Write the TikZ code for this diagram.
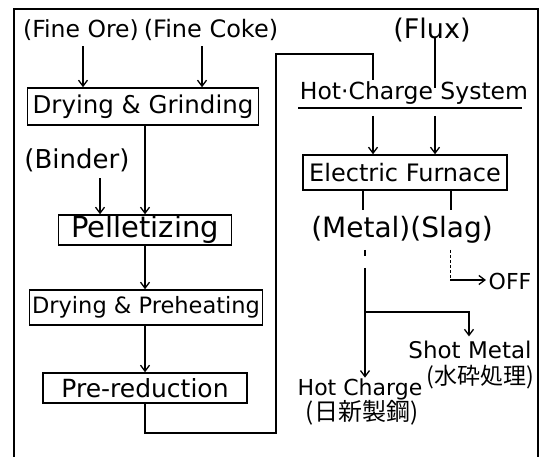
\documentclass[tikz,border=0pt]{standalone}
\usepackage{fontspec}
\setmainfont{DejaVu Sans}
\newfontfamily\cjk{Noto Sans CJK JP}
\usetikzlibrary{arrows.meta}
\newcommand\fsz[1]{\fontsize{#1}{#1}\selectfont}
\begin{document}
\begin{tikzpicture}[x=1pt,y=-1pt,line width=1.5pt,
  lbl/.style={inner sep=0pt,font=\fsz{22}},
  jp/.style={inner sep=0pt,font=\cjk\fsz{24}},
  box/.style={draw,inner sep=0pt,font=\fsz{22}},
  arr/.style={-{Straight Barb[length=6pt,width=9pt,line width=1.3pt]}}]
\useasboundingbox (0,0) rectangle (549,457);
% outer frame
\coordinate (f1) at (14,457);
\coordinate (f2) at (14,9);
\coordinate (f3) at (538,9);
\coordinate (f4) at (538,457);
\draw (f1) -- (f2) -- (f3) -- (f4);
% left column
\node[lbl,font=\fsz{23.5}] (ore) at (81,30) {(Fine Ore)};
\node[lbl,font=\fsz{24}] (coke) at (211,30) {(Fine Coke)};
\node[box,minimum width=231pt,minimum height=37pt,font=\fsz{24.5}] (dg) at (143,106.5) {Drying \& Grinding};
\node[lbl,font=\fsz{26}] (binder) at (77,160) {(Binder)};
\node[box,minimum width=173pt,minimum height=30pt,font=\fsz{29}] (pel) at (145,230) {Pelletizing};
\node[box,minimum width=233pt,minimum height=35pt,font=\fsz{22.5}] (dp) at (146,307.5) {Drying \& Preheating};
\node[box,minimum width=204pt,minimum height=30pt,font=\fsz{25}] (pr) at (145,388) {Pre-reduction};
\draw[arr,shorten <=5pt] ([xshift=2pt]ore.south) -- ([xshift=2pt]ore.south |- dg.north);
\draw[arr,shorten <=5pt] ([xshift=-9pt]coke.south) -- ([xshift=-9pt]coke.south |- dg.north);
\draw[arr,shorten <=6pt] ([xshift=23pt]binder.south) -- ([xshift=23pt]binder.south |- pel.north);
\draw[arr] ([xshift=2pt]dg.south) -- ([xshift=2pt]dg.south |- pel.north);
\draw[arr] (pel.south) -- (pel.south |- dp.north);
\draw[arr] ([xshift=-1pt]dp.south) -- ([xshift=-1pt]dp.south |- pr.north);
% loop to hot charge system
\coordinate (c1) at (276,433);
\coordinate (c2) at (276,54);
\node[lbl,font=\fsz{23.5}] (hcs) at (414,93) {Hot·Charge System};
\coordinate (ul1) at (298,108);
\coordinate (ul2) at (522,108);
\draw (ul1) -- (ul2);
\coordinate (c3) at (373,80);
\draw (pr.south) |- (c1) -- (c2) -| (c3);
% flux
\node[lbl,font=\fsz{27}] (flux) at (432,30) {(Flux)};
\coordinate (fx) at (435,88);
\draw ([xshift=3pt]flux.south) ++(0,-6) -- (fx);
% electric furnace
\node[box,minimum width=204pt,minimum height=35pt,font=\fsz{24}] (ef) at (405,172.5) {Electric Furnace};
\coordinate (a1) at (373,116);
\coordinate (a2) at (435,116);
\draw[arr] (a1) -- (a1 |- ef.north);
\draw[arr] (a2) -- (a2 |- ef.north);
\node[lbl,font=\fsz{28}] (ms) at (402,230) {(Metal)(Slag)};
\coordinate (m0) at (363,210);
\coordinate (s0) at (451,210);
\draw (m0 |- ef.south) -- (m0);
\draw (s0 |- ef.south) -- (s0);
% slag to OFF
\node[lbl,font=\fsz{22}] (off) at (510,281) {OFF};
\coordinate (s1) at (450,250);
\coordinate (s2) at (450,280);
\draw[line width=0.9pt,dash pattern=on 3pt off 2pt] (s1) -- (s2);
\draw[arr] (s2) -- ([xshift=-2pt]off.west |- s2);
% metal
\node[lbl,font=\fsz{22}] (hc) at (360,389) {Hot Charge};
\node[jp] (hcj) at (362,413) {(日新製鋼)};
\node[lbl,font=\fsz{23}] (sm) at (470,350) {Shot Metal};
\node[jp,font=\cjk\fsz{23}] (smj) at (480,377) {(水砕処理)};
\coordinate (m1) at (365,250);
\coordinate (m2) at (365,256);
\coordinate (m3) at (365,268);
\coordinate (m4) at (365,312);
\coordinate (m5) at (469,312);
\draw (m1) -- (m2);
\draw[arr] (m3) -- (m3 |- hc.north);
\draw[arr] (m4) -- (m5) -- ([yshift=4pt]m5 |- sm.north);
\end{tikzpicture}
\end{document}
